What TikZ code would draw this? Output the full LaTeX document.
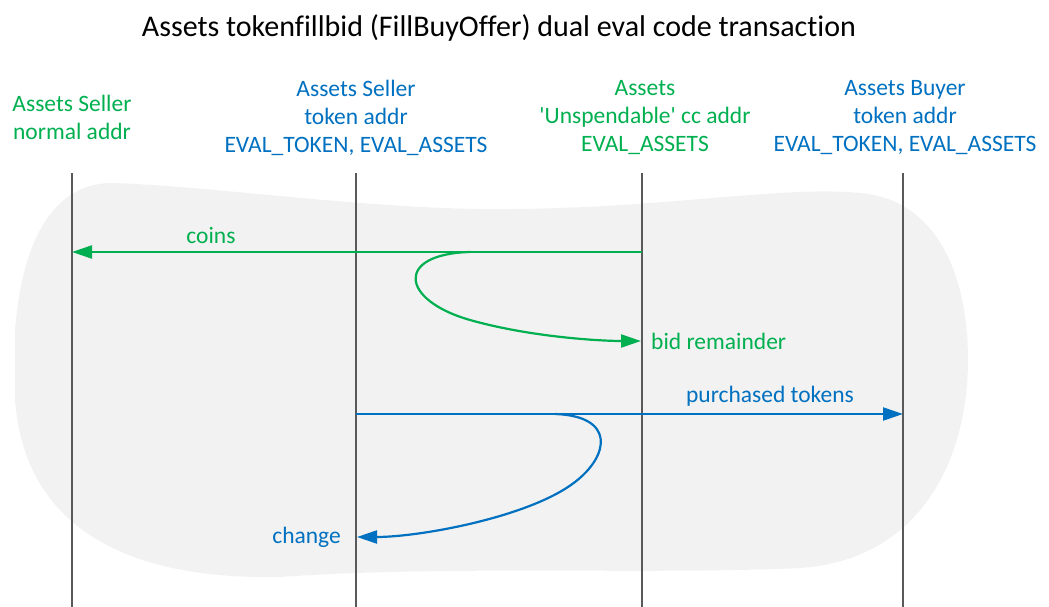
\documentclass[tikz,border=0pt]{standalone}
\usepackage{fontspec}
\setmainfont{Carlito}[Ligatures={TeXOff,NoCommon}]
\usetikzlibrary{arrows.meta}
\definecolor{cgreen}{HTML}{00B050}
\definecolor{cblue}{HTML}{0070C0}
\definecolor{blob}{HTML}{F2F2F2}
\definecolor{lifegray}{HTML}{595959}
\tikzset{
  lbl/.style={inner sep=0pt, align=center, font=\fontsize{23.5}{28}\selectfont},
  life/.style={draw=lifegray, line width=1.3pt},
  flow/.style={line width=2.2pt, -{Triangle[length=20pt,width=13pt]}},
}
\begin{document}
\begin{tikzpicture}[x=1pt,y=-1pt]
\useasboundingbox (0,0) rectangle (1049,607);
% background blob
\fill[blob] (15,330) .. controls (22,245) and (50,185) .. (110,183)
  .. controls (200,185) and (350,207) .. (480,209)
  .. controls (650,211) and (780,185) .. (860,193)
  .. controls (940,200) and (968,280) .. (968,360)
  .. controls (968,460) and (920,560) .. (800,568)
  .. controls (650,575) and (450,565) .. (280,577)
  .. controls (130,580) and (25,530) .. (15,400) -- cycle;
% title
\node[inner sep=0pt, font=\fontsize{30}{34}\selectfont] (title) at (499,28) {Assets tokenfillbid (FillBuyOffer) dual eval code transaction};
% headers
\node[lbl, text=cgreen] (h1) at (72,117) {Assets Seller\\normal addr};
\node[lbl, text=cblue] (h2) at (356,118) {Assets Seller\\token addr\\EVAL\_TOKEN, EVAL\_ASSETS};
\node[lbl, text=cgreen] (h3) at (645,118) {Assets\\'Unspendable' cc addr\\EVAL\_ASSETS};
\node[lbl, text=cblue] (h4) at (905,118) {Assets Buyer\\token addr\\EVAL\_TOKEN, EVAL\_ASSETS};
% lifelines
\coordinate (l1t) at (72,173);  \coordinate (l1b) at (72,607);
\coordinate (l2t) at (356,173); \coordinate (l2b) at (356,607);
\coordinate (l3t) at (642,173); \coordinate (l3b) at (642,607);
\coordinate (l4t) at (903,173); \coordinate (l4b) at (903,607);
\draw[life] (l1t) -- (l1b);
\draw[life] (l2t) -- (l2b);
\draw[life] (l3t) -- (l3b);
\draw[life] (l4t) -- (l4b);
% coins
\coordinate (c3) at (642,252); \coordinate (c1) at (72,252);
\draw[flow, cgreen] (c3) -- (c1);
\node[lbl, text=cgreen] (coins) at (211,236) {coins};
% bid remainder
\coordinate (bs) at (470,252); \coordinate (bm) at (470,320); \coordinate (be) at (641,341);
\draw[flow, cgreen] (bs) .. controls (395,254) and (400,300) .. (bm) .. controls (530,337) and (600,341) .. (be);
\node[lbl, text=cgreen, anchor=west] (bidrem) at (651,341) {bid remainder};
% purchased tokens
\coordinate (p2) at (356,414); \coordinate (p4) at (903,414);
\draw[flow, cblue] (p2) -- (p4);
\node[lbl, text=cblue] (purch) at (770,396) {purchased tokens};
% change
\coordinate (cs) at (555,414); \coordinate (cm) at (575,482); \coordinate (ce) at (357,537);
\draw[flow, cblue] (cs) .. controls (615,416) and (610,455) .. (cm) .. controls (530,517) and (420,537) .. (ce);
\node[lbl, text=cblue, anchor=east] (change) at (341,537) {change};
\end{tikzpicture}
\end{document}
